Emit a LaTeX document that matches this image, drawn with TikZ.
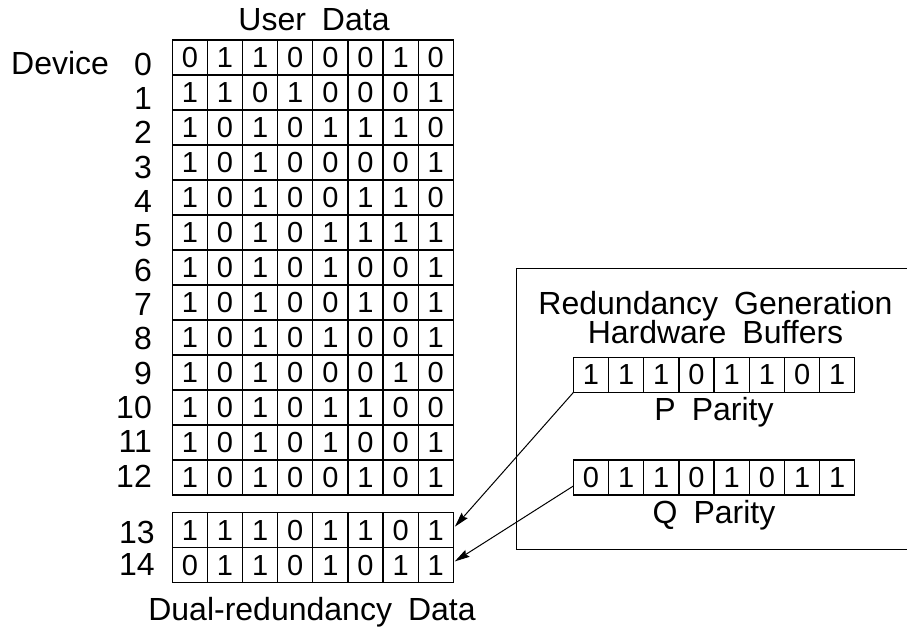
\documentclass[tikz,border=0pt]{standalone}
\usepackage{fontspec}
\setmainfont{Liberation Sans}
\usetikzlibrary{arrows.meta}

\tikzset{
  cell/.style={draw, line width=1.2pt, minimum width=35.125pt, minimum height=35pt,
    inner sep=0pt, outer sep=0pt, font=\fontsize{29}{30}\selectfont},
  lbl/.style={inner sep=0pt, anchor=base, font=\fontsize{32}{36}\selectfont},
  rowno/.style={inner sep=0pt, anchor=base east, font=\fontsize{32}{36}\selectfont},
  frame/.style={line width=1pt},
  feed/.style={line width=1pt, -{Stealth[length=15pt,width=8pt,inset=2pt]}},
}

\begin{document}
\begin{tikzpicture}[x=1pt, y=-1pt]
  \fill[white] (0,0) rectangle (907,630);
  \useasboundingbox (0,0) rectangle (907,630);

  % headings
  \node[lbl] (userdata) at (314,30.7) {User\hspace{0.5em}Data};
  \node[lbl, anchor=base west] (device) at (11,74.3) {Device};

  % user data, devices 0-12
  \foreach \bits [count=\r from 0] in {
      {0,1,1,0,0,0,1,0},{1,1,0,1,0,0,0,1},{1,0,1,0,1,1,1,0},{1,0,1,0,0,0,0,1},
      {1,0,1,0,0,1,1,0},{1,0,1,0,1,1,1,1},{1,0,1,0,1,0,0,1},{1,0,1,0,0,1,0,1},
      {1,0,1,0,1,0,0,1},{1,0,1,0,0,0,1,0},{1,0,1,0,1,1,0,0},{1,0,1,0,1,0,0,1},
      {1,0,1,0,0,1,0,1}} {
    \node[rowno] (n\r) at (152,{75+34.36*\r}) {\r};
    \foreach \b [count=\c] in \bits {
      \node[cell] (d\r-\c) at ({172.3+35.125*(\c-0.5)},{57.5+35*\r}) {\b};
    }
  }

  % dual-redundancy data, devices 13-14
  \foreach \bits [count=\r from 13] in {{1,1,1,0,1,1,0,1},{0,1,1,0,1,0,1,1}} {
    \foreach \b [count=\c] in \bits {
      \node[cell] (d\r-\c) at ({172.3+35.125*(\c-0.5)},{530.2+35*(\r-13)}) {\b};
    }
  }
  \node[rowno] (n13) at (155,543.3) {13};
  \node[rowno] (n14) at (155,575) {14};
  \node[lbl] (dual) at (312,620) {Dual-redundancy\hspace{0.5em}Data};

  % redundancy generation hardware
  \draw[frame] (907,268) -| (516.7,549.3) -- (907,549.3);
  \node[lbl] (rg) at (715.5,314) {Redundancy\hspace{0.5em}Generation};
  \node[lbl] (hb) at (715.5,343.3) {Hardware\hspace{0.5em}Buffers};

  \foreach \b [count=\c] in {1,1,1,0,1,1,0,1} {
    \node[cell] (p-\c) at ({573.3+35.2*(\c-0.5)},375) {\b};
  }
  \node[lbl] (pp) at (714,420.7) {P\hspace{0.5em}Parity};

  \foreach \b [count=\c] in {0,1,1,0,1,0,1,1} {
    \node[cell] (q-\c) at ({573.3+35.2*(\c-0.5)},477.5) {\b};
  }
  \node[lbl] (qp) at (714,523.4) {Q\hspace{0.5em}Parity};

  % parity written back to devices 13 and 14
  \coordinate (ptip) at ([shift={(1.5pt,3.5pt)}]d13-8.east);
  \coordinate (qtail) at ([yshift=-8.5pt]q-1.west);
  \coordinate (qtip) at ([shift={(1.5pt,3.8pt)}]d14-8.east);
  \draw[feed] (p-1.south west) -- (ptip);
  \draw[feed] (qtail) -- (qtip);
\end{tikzpicture}
\end{document}
